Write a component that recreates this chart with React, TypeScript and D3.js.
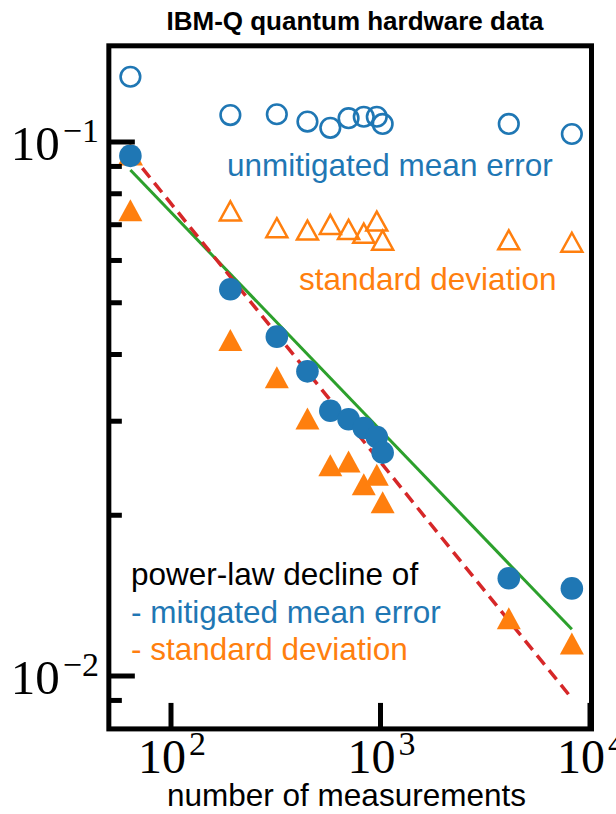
import React from "react";
import * as d3 from "d3";

const measurements = [64, 192, 320, 448, 576, 704, 832, 960, 1024, 4096, 8192];
const unmitigatedMean = [0.1325, 0.1123, 0.1127, 0.1092, 0.1063, 0.1108, 0.1115, 0.1115, 0.1081, 0.1081, 0.1035];
const unmitigatedStd = [0.0946, 0.0743, 0.0691, 0.0684, 0.0701, 0.0686, 0.0675, 0.0711, 0.0655, 0.0656, 0.0649];
const mitigatedMean = [0.0942, 0.053, 0.0432, 0.0372, 0.03138, 0.03025, 0.02913, 0.02803, 0.0262, 0.01524, 0.01459];
const mitigatedStd = [0.0745, 0.0426, 0.03625, 0.03035, 0.0248, 0.02523, 0.02286, 0.02382, 0.02115, 0.01283, 0.0115];

const fitX = [64, 8192];
const meanFit = [0.0886, 0.01223];
const stdFit = [0.0952, 0.00908];

const xMajorTicks = [100, 1000, 10000];
const xTickExps = ["2", "3", "4"];
const yMajorTicks = [0.1, 0.01];
const yTickExps = ["\u22121", "\u22122"];
const yMinorTicks = [0.09, 0.08, 0.07, 0.06, 0.05, 0.04, 0.03, 0.02, 0.009];

const xDomain = [50.5, 10000];
const yDomain = [0.00796, 0.1514];

const BLUE = "#1f77b4";
const ORANGE = "#ff7f0e";
const GREEN = "#2ca02c";
const RED = "#d62728";

const SANS = "'Liberation Sans', Arial, Helvetica, sans-serif";
const SERIF = "'Liberation Serif', 'Times New Roman', serif";

export default function App() {
  const x = d3.scaleLog().domain([100, 1000]).range([171, 380.5]);
  const y = d3.scaleLog().domain([0.1, 0.01]).range([142, 676]);

  const left = x(xDomain[0]);
  const right = x(xDomain[1]) + 1.5;
  const top = y(yDomain[1]);
  const bottom = y(yDomain[0]);

  const line = d3
    .line<[number, number]>()
    .x((d) => x(d[0]))
    .y((d) => y(d[1]));

  const meanLine = line(fitX.map((v, i) => [v, meanFit[i]] as [number, number])) || "";
  const stdLine = line(fitX.map((v, i) => [v, stdFit[i]] as [number, number])) || "";

  const tri = (w: number, h: number) => `M0,${-h / 2}L${w / 2},${h / 2}L${-w / 2},${h / 2}Z`;

  return (
    <svg
      width={616}
      height={814}
      style={{ position: "absolute", left: 0, top: 0, background: "#fff" }}
    >
      <rect x={0} y={0} width={616} height={814} fill="#fff" />
      <text x={355} y={30} textAnchor="middle" fontFamily={SANS} fontWeight="bold" fontSize={26}>
        IBM-Q quantum hardware data
      </text>

      {/* fit lines */}
      <path d={meanLine} stroke={GREEN} strokeWidth={3} fill="none" />
      <path d={stdLine} stroke={RED} strokeWidth={3.5} fill="none" strokeDasharray="12,7" />

      {/* unmitigated mean error: hollow circles */}
      {measurements.map((m, i) => (
        <circle key={"uc" + i} cx={x(m)} cy={y(unmitigatedMean[i])} r={9.8} fill="none" stroke={BLUE} strokeWidth={2.6} />
      ))}
      {/* unmitigated std: hollow triangles */}
      {measurements.map((m, i) => (
        <path
          key={"ut" + i}
          d={tri(21, 19)}
          transform={`translate(${x(m)},${y(unmitigatedStd[i])})`}
          fill="none"
          stroke={ORANGE}
          strokeWidth={2.5}
          strokeLinejoin="miter"
        />
      ))}
      {/* mitigated mean: filled circles */}
      {measurements.map((m, i) => (
        <circle key={"mc" + i} cx={x(m)} cy={y(mitigatedMean[i])} r={11.3} fill={BLUE} />
      ))}
      {/* mitigated std: filled triangles */}
      {measurements.map((m, i) => (
        <path key={"mt" + i} d={tri(24, 22)} transform={`translate(${x(m)},${y(mitigatedStd[i])})`} fill={ORANGE} />
      ))}

      {/* annotations */}
      <text x={227} y={176} fontFamily={SANS} fontSize={31.5} fill={BLUE}>
        unmitigated mean error
      </text>
      <text x={299} y={290} fontFamily={SANS} fontSize={31.5} fill={ORANGE}>
        standard deviation
      </text>
      <text x={131} y={585} fontFamily={SANS} fontSize={31.5} fill="#000">
        power-law decline of
      </text>
      <text x={131} y={623} fontFamily={SANS} fontSize={31.5} fill={BLUE}>
        - mitigated mean error
      </text>
      <text x={131} y={660} fontFamily={SANS} fontSize={31.5} fill={ORANGE}>
        - standard deviation
      </text>

      {/* y ticks (inward) */}
      {yMinorTicks.map((t, i) => (
        <line key={"ym" + i} x1={left} x2={left + 13} y1={y(t)} y2={y(t)} stroke="#000" strokeWidth={5} />
      ))}
      {yMajorTicks.map((t, i) => (
        <g key={"yM" + i}>
          <line x1={left} x2={left + 26} y1={y(t)} y2={y(t)} stroke="#000" strokeWidth={5} />
          <text x={99} y={y(t) + 18} textAnchor="end" fontFamily={SERIF} fontSize={49} fill="#000">
            10
            <tspan fontSize={34} dy={-18} dx={3}>
              {yTickExps[i]}
            </tspan>
          </text>
        </g>
      ))}
      {/* x ticks (inward) */}
      {xMajorTicks.map((t, i) => (
        <g key={"xM" + i}>
          <line x1={x(t)} x2={x(t)} y1={bottom} y2={bottom - 26} stroke="#000" strokeWidth={5} />
          <text x={x(t) + 1} y={773} textAnchor="middle" fontFamily={SERIF} fontSize={48} fill="#000">
            10
            <tspan fontSize={34} dy={-18} dx={3}>
              {xTickExps[i]}
            </tspan>
          </text>
        </g>
      ))}

      {/* frame */}
      <rect x={left} y={top} width={right - left} height={bottom - top} fill="none" stroke="#000" strokeWidth={5} />

      <text x={346.5} y={806} textAnchor="middle" fontFamily={SANS} fontSize={31.5} fill="#000">
        number of measurements
      </text>
    </svg>
  );
}
